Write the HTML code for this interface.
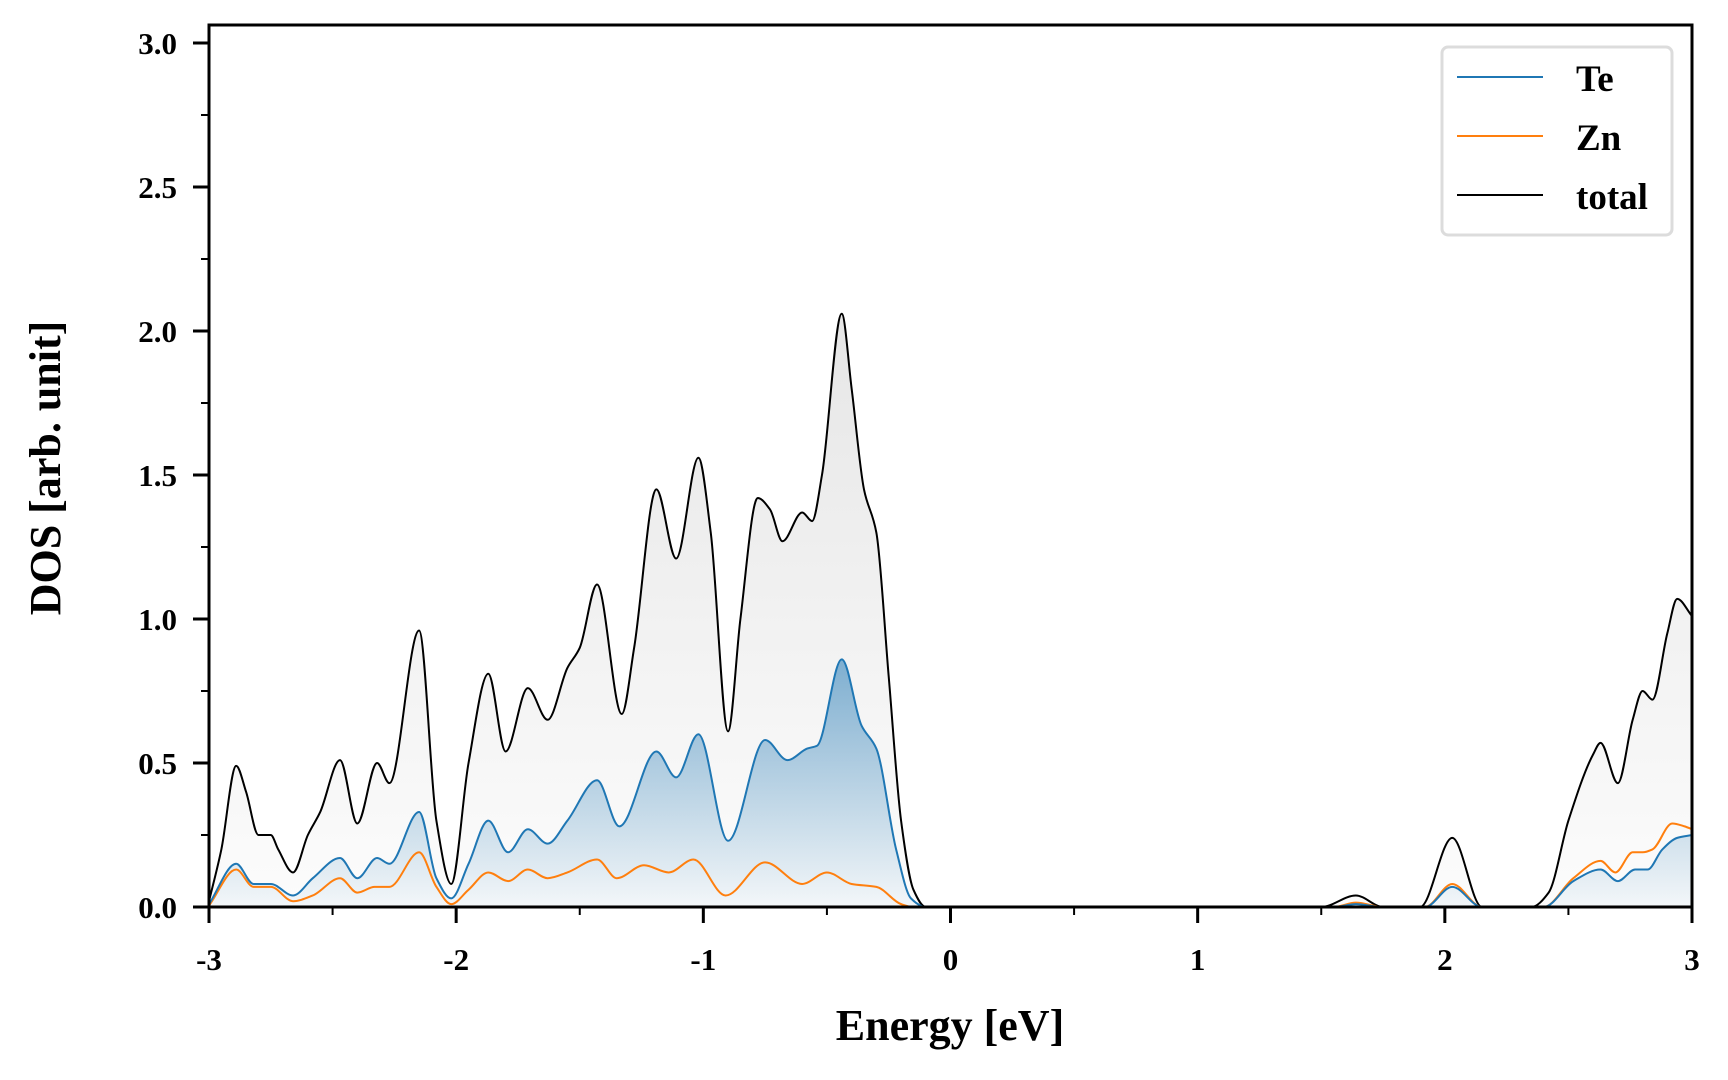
<!DOCTYPE html>
<html><head><meta charset="utf-8"><style>
html,body{margin:0;padding:0;background:#fff;}
svg{display:block;font-family:"Liberation Serif",serif;font-weight:bold;}
</style></head><body>
<svg id="chart" width="1728" height="1080" viewBox="0 0 1728 1080" xmlns="http://www.w3.org/2000/svg">
<defs>
<linearGradient id="gTot" gradientUnits="userSpaceOnUse" x1="0" y1="310" x2="0" y2="907">
<stop offset="0" stop-color="#e6e6e6"/><stop offset="1" stop-color="#fcfcfc"/></linearGradient>
<linearGradient id="gTe" gradientUnits="userSpaceOnUse" x1="0" y1="660" x2="0" y2="907">
<stop offset="0" stop-color="#1f77b4" stop-opacity="0.55"/><stop offset="1" stop-color="#1f77b4" stop-opacity="0.04"/></linearGradient>
<clipPath id="clip"><rect x="209" y="25" width="1483" height="882"/></clipPath>
</defs>
<g id="fills" clip-path="url(#clip)"></g>
<g id="lines" clip-path="url(#clip)"></g>
<g id="axes"></g>
<text x="950" y="1040" font-size="44" text-anchor="middle">Energy [eV]</text>
<text transform="translate(60,468) rotate(-90)" font-size="44" text-anchor="middle">DOS [arb. unit]</text>
<g>
<rect x="1442" y="47" width="230" height="188" rx="6" fill="#fff" stroke="#dcdcdc" stroke-width="3"/>
<line x1="1457" y1="77" x2="1543" y2="77" stroke="#1f77b4" stroke-width="2"/>
<text x="1576" y="91" font-size="37">Te</text>
<line x1="1457" y1="136" x2="1543" y2="136" stroke="#ff7f0e" stroke-width="2"/>
<text x="1576" y="150" font-size="37">Zn</text>
<line x1="1457" y1="195" x2="1543" y2="195" stroke="#000" stroke-width="2"/>
<text x="1576" y="209" font-size="37">total</text>
</g>
</svg>
<script>
const totalE=[-3.0,-2.95,-2.89,-2.85,-2.8,-2.75,-2.72,-2.66,-2.6,-2.55,-2.47,-2.4,-2.32,-2.27,-2.15,-2.08,-2.02,-1.95,-1.87,-1.8,-1.71,-1.63,-1.55,-1.5,-1.43,-1.33,-1.28,-1.19,-1.11,-1.02,-0.97,-0.9,-0.85,-0.78,-0.73,-0.68,-0.6,-0.56,-0.52,-0.44,-0.4,-0.35,-0.3,-0.25,-0.2,-0.15,-0.1,1.5,1.64,1.75,1.9,2.03,2.15,2.35,2.42,2.5,2.6,2.63,2.7,2.76,2.8,2.84,2.9,2.94,3.0];
const totalV=[0.02,0.2,0.49,0.4,0.25,0.25,0.2,0.12,0.25,0.33,0.51,0.29,0.5,0.43,0.96,0.3,0.08,0.5,0.81,0.54,0.76,0.65,0.83,0.9,1.12,0.67,0.9,1.45,1.21,1.56,1.3,0.61,1.0,1.42,1.38,1.27,1.37,1.34,1.5,2.06,1.8,1.45,1.3,0.8,0.3,0.06,0.0,0,0.04,0,0,0.24,0,0,0.05,0.3,0.53,0.57,0.43,0.65,0.75,0.72,0.95,1.07,1.01];
const teE=[-3,-2.89,-2.82,-2.75,-2.66,-2.58,-2.47,-2.4,-2.32,-2.27,-2.15,-2.08,-2.02,-1.95,-1.87,-1.79,-1.71,-1.63,-1.55,-1.43,-1.34,-1.19,-1.11,-1.02,-0.9,-0.75,-0.66,-0.58,-0.54,-0.44,-0.36,-0.3,-0.22,-0.16,-0.1,1.55,1.64,1.75,1.92,2.03,2.15,2.4,2.52,2.63,2.7,2.77,2.82,2.88,2.94,3.0];
const teV=[0.01,0.15,0.08,0.08,0.04,0.1,0.17,0.1,0.17,0.15,0.33,0.1,0.03,0.15,0.3,0.19,0.27,0.22,0.3,0.44,0.28,0.54,0.45,0.6,0.23,0.58,0.51,0.55,0.56,0.86,0.63,0.55,0.2,0.03,0,0,0.01,0,0,0.07,0,0,0.09,0.13,0.09,0.13,0.13,0.2,0.24,0.25];
const znE=[-3,-2.89,-2.82,-2.75,-2.66,-2.58,-2.47,-2.4,-2.33,-2.27,-2.15,-2.08,-2.02,-1.95,-1.87,-1.79,-1.71,-1.63,-1.55,-1.43,-1.35,-1.24,-1.14,-1.04,-0.91,-0.75,-0.6,-0.5,-0.4,-0.3,-0.2,-0.15,1.55,1.64,1.75,1.92,2.03,2.15,2.4,2.52,2.63,2.69,2.76,2.8,2.84,2.92,2.97,3.0];
const znV=[0.005,0.13,0.07,0.07,0.02,0.04,0.1,0.05,0.07,0.07,0.19,0.07,0.01,0.06,0.12,0.09,0.13,0.1,0.12,0.165,0.1,0.145,0.12,0.165,0.04,0.155,0.08,0.12,0.08,0.07,0.01,0,0,0.015,0,0,0.08,0,0,0.1,0.16,0.12,0.19,0.19,0.2,0.29,0.28,0.27];
const xTicks=[-3,-2,-1,0,1,2,3];
const xTickLabels=["-3","-2","-1","0","1","2","3"];
const yTicks=[0,0.5,1.0,1.5,2.0,2.5,3.0];
const yTickLabels=["0.0","0.5","1.0","1.5","2.0","2.5","3.0"];

const X0=209,X1=1692,Y0=907,YT=25;
const sx=e=>X0+(e+3)/6*(X1-X0);
const sy=v=>Y0-v*288;
const NS="http://www.w3.org/2000/svg";
function mk(tag,attrs,parent){const el=document.createElementNS(NS,tag);for(const k in attrs)el.setAttribute(k,attrs[k]);parent.appendChild(el);return el;}
function curve(E,V){
  const x=E.map(sx),y=V.map(sy),n=x.length;
  const d=[],m=new Array(n);
  for(let i=0;i<n-1;i++)d.push((y[i+1]-y[i])/(x[i+1]-x[i]));
  m[0]=d[0];m[n-1]=d[n-2];
  for(let i=1;i<n-1;i++){
    if(d[i-1]*d[i]<=0)m[i]=0;
    else{const h0=x[i]-x[i-1],h1=x[i+1]-x[i];const w1=2*h1+h0,w2=h1+2*h0;m[i]=(w1+w2)/(w1/d[i-1]+w2/d[i]);}
  }
  let p="M"+x[0].toFixed(2)+","+y[0].toFixed(2);
  for(let i=0;i<n-1;i++){
    const h=(x[i+1]-x[i])/3;
    p+=" C"+(x[i]+h).toFixed(2)+","+(y[i]+m[i]*h).toFixed(2)+" "+(x[i+1]-h).toFixed(2)+","+(y[i+1]-m[i+1]*h).toFixed(2)+" "+x[i+1].toFixed(2)+","+y[i+1].toFixed(2);
  }
  return p;
}
const fills=document.getElementById('fills'),lines=document.getElementById('lines'),axes=document.getElementById('axes');
const tc=curve(totalE,totalV),te=curve(teE,teV),zn=curve(znE,znV);
let f1=mk('path',{d:tc+` L${sx(3)},${Y0} L${sx(-3)},${Y0} Z`,fill:'url(#gTot)'},fills);


let f2=mk('path',{d:te+` L${sx(3)},${Y0} L${sx(-3)},${Y0} Z`,fill:'url(#gTe)'},fills);


let l1=mk('path',{d:tc,fill:'none',stroke:'#000','stroke-width':2},lines);


let l2=mk('path',{d:zn,fill:'none',stroke:'#ff7f0e','stroke-width':2},lines);


let l3=mk('path',{d:te,fill:'none',stroke:'#1f77b4','stroke-width':2},lines);


let fr=mk('rect',{x:X0,y:YT,width:X1-X0,height:Y0-YT,fill:'none',stroke:'#000','stroke-width':3},axes);


xTicks.forEach((t,i)=>{
  const x=sx(t);
  let tk=mk('line',{x1:x,y1:Y0,x2:x,y2:Y0+16,stroke:'#000','stroke-width':3},axes);
  
  
  let lb=mk('text',{x:x,y:970,'font-size':31,'text-anchor':'middle'},axes);
  lb.textContent=xTickLabels[i];
  
  
  if(i<xTicks.length-1){
    const xm=sx(t+0.5);
    let mt=mk('line',{x1:xm,y1:Y0,x2:xm,y2:Y0+8,stroke:'#000','stroke-width':2},axes);
    
    
  }
});
yTicks.forEach((t,i)=>{
  const y=sy(t);
  let tk=mk('line',{x1:X0-16,y1:y,x2:X0,y2:y,stroke:'#000','stroke-width':3},axes);
  
  
  let lb=mk('text',{x:177,y:y+11,'font-size':31,'text-anchor':'end'},axes);
  lb.textContent=yTickLabels[i];
  
  
  if(i<yTicks.length-1){
    const ym=sy(t+0.25);
    let mt=mk('line',{x1:X0-8,y1:ym,x2:X0,y2:ym,stroke:'#000','stroke-width':2},axes);
    
    
  }
});
</script>
</body></html>
